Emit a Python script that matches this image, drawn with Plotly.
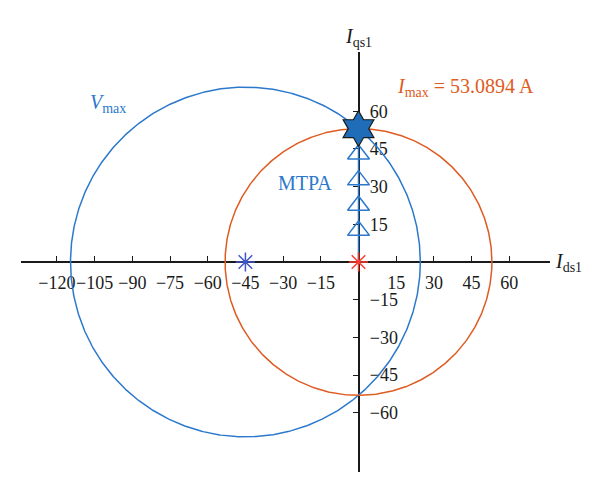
import numpy as np
import plotly.graph_objects as go

# ---- data ----
I_max = 53.0894
vmax_center = -45.0
vmax_radius = 69.6
mtpa_id = [0, 0, 0, 0]
mtpa_iq = [12.5, 22.5, 32.6, 42.9]
opt_id = [0.0]
opt_iq = [53.09]
x_ticks = [-120, -105, -90, -75, -60, -45, -30, -15, 15, 30, 45, 60]
y_ticks = [60, 45, 30, 15, -15, -30, -45, -60]

BLUE = "#2b78cc"
ORANGE = "#de5b22"
FONT = "Liberation Serif, Times New Roman, serif"
OFF = 8  # default body margin of the html page

th = np.linspace(0, 2 * np.pi, 721)

def lab(v):
    return ("\u2212" + str(-v)) if v < 0 else str(v)

fig = go.Figure()
fig.add_trace(go.Scatter(x=vmax_center + vmax_radius * np.cos(th), y=vmax_radius * np.sin(th),
                         mode="lines", line=dict(color=BLUE, width=1.5), hoverinfo="skip"))
fig.add_trace(go.Scatter(x=I_max * np.cos(th), y=I_max * np.sin(th),
                         mode="lines", line=dict(color=ORANGE, width=1.5), hoverinfo="skip"))
fig.add_trace(go.Scatter(x=[0, opt_id[0]], y=[0, opt_iq[0]], mode="lines",
                         line=dict(color=BLUE, width=1.5)))
fig.add_trace(go.Scatter(x=mtpa_id, y=mtpa_iq, mode="markers",
                         marker=dict(symbol="triangle-up-open", size=19, color=BLUE,
                                     line=dict(color=BLUE, width=1.5))))
fig.add_trace(go.Scatter(x=[vmax_center], y=[0], mode="markers",
                         marker=dict(symbol="asterisk-open", size=16, color="#3f55c8",
                                     line=dict(color="#3f55c8", width=1.5))))
fig.add_trace(go.Scatter(x=[0], y=[0], mode="markers",
                         marker=dict(symbol="asterisk-open", size=16, color="#ff3b2f",
                                     line=dict(color="#ff3b2f", width=1.5))))
fig.add_trace(go.Scatter(x=opt_id, y=opt_iq, mode="markers",
                         marker=dict(symbol="hexagram", size=27, color="#1f6db8",
                                     line=dict(color="#1a1a1a", width=1.2))))

xr = [-134.3, 76.2]
yr = [-83.6, 83.6]
fig.update_layout(
    width=600 - OFF, height=494 - OFF,
    margin=dict(l=21 - OFF, r=50, t=52 - OFF, b=22),
    paper_bgcolor="white", plot_bgcolor="white",
    showlegend=False,
    font=dict(family=FONT, size=18, color="#1a1a1a"),
    xaxis=dict(range=xr, showgrid=False, zeroline=False, showline=True,
               linecolor="#1a1a1a", linewidth=1.5, layer="below traces",
               anchor="free", position=(0 - yr[0]) / (yr[1] - yr[0]),
               tickmode="array", tickvals=x_ticks, ticktext=[lab(v) for v in x_ticks],
               ticks="inside", ticklen=5, tickwidth=1, tickcolor="#1a1a1a",
               tickangle=0, tickfont=dict(size=18), ticklabelstandoff=5),
    yaxis=dict(range=yr, showgrid=False, zeroline=False, showline=True,
               linecolor="#1a1a1a", linewidth=1.5, side="right", layer="below traces",
               anchor="free", position=(0 - xr[0]) / (xr[1] - xr[0]),
               tickmode="array", tickvals=y_ticks, ticktext=[lab(v) for v in y_ticks],
               ticks="inside", ticklen=5, tickwidth=1, tickcolor="#1a1a1a",
               tickfont=dict(size=18), ticklabelstandoff=7),
    annotations=[
        dict(text="<i>I</i><sub>qs1</sub>", xref="paper", yref="paper",
             x=(0 - xr[0]) / (xr[1] - xr[0]), y=1.0, yshift=29, showarrow=False,
             font=dict(size=20, color="#1a1a1a")),
        dict(text="<i>I</i><sub>ds1</sub>", xref="paper", yref="y", x=1.0, y=0,
             xanchor="left", xshift=3, showarrow=False, font=dict(size=20, color="#1a1a1a")),
        dict(text="<i>I</i><sub>max</sub> = 53.0894 A", x=14.5, y=69.5, xref="x", yref="y",
             xanchor="left", showarrow=False, font=dict(size=20, color=ORANGE)),
        dict(text="<i>V</i><sub>max</sub>", x=-99.5, y=63, xref="x", yref="y",
             xanchor="center", showarrow=False, font=dict(size=20, color=BLUE)),
        dict(text="MTPA", x=-21.3, y=31.4, xref="x", yref="y",
             showarrow=False, font=dict(size=20, color=BLUE)),
    ],
)
fig.write_html("out.html")
